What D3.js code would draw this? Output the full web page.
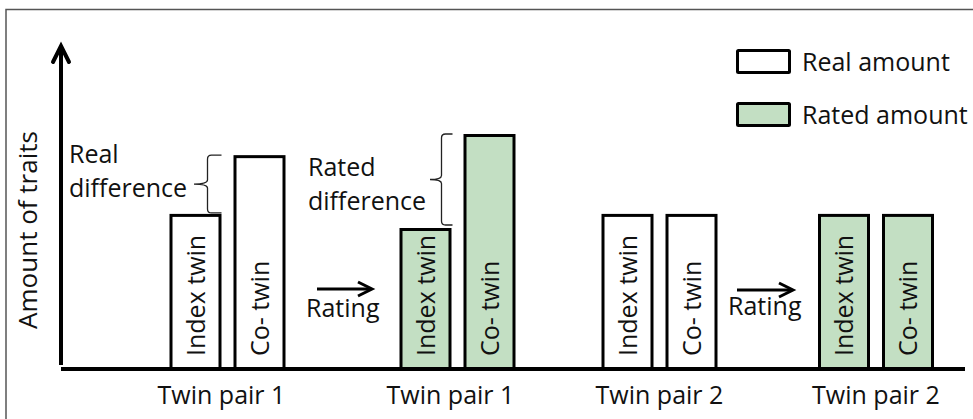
<!DOCTYPE html>
<html><head><meta charset="utf-8">
<script src="https://cdn.jsdelivr.net/npm/d3@7"></script>
<style>
html,body{margin:0;padding:0;background:#fff;}
svg{display:block;}
text{font-family:"Open Sans",sans-serif;fill:#111;}
</style></head>
<body><svg id="chart" width="973" height="419"></svg>
<script>
// ---- data ----
const panels = ["p1real", "p1rated", "p2real", "p2rated"];
const panelLabels = ["Twin pair 1", "Twin pair 1", "Twin pair 2", "Twin pair 2"];
const panelType = ["Real amount", "Rated amount", "Real amount", "Rated amount"];
const members = ["Index twin", "Co- twin"];
const indexTwin = [66, 60, 66, 66];
const coTwin = [91, 100, 66, 66];
const legendItems = ["Real amount", "Rated amount"];
const yLabel = "Amount of traits";
const diffNotes = [["Real", "difference"], ["Rated", "difference"]];
const arrowLabel = "Rating";

// ---- layout ----
const W = 973, H = 419;
const baseY = 369, axisX = 61, axisEnd = 965;
const panelCenters = [227.5, 457.5, 659.5, 876];
const colors = {"Real amount": "#ffffff", "Rated amount": "#c3dfc3"};
const fs = 25;

const svg = d3.select("#chart");

// border
svg.append("rect").attr("x", 6).attr("y", 9.5).attr("width", 1000).attr("height", 500)
  .attr("fill", "none").attr("stroke", "#555").attr("stroke-width", 1.5);

const y = d3.scaleLinear().domain([0, 100]).range([baseY, baseY - 235]);
const xPanel = d3.scaleOrdinal().domain(panels).range(panelCenters);
const xMember = d3.scaleBand().domain(members).range([-58, 58]).paddingInner(0.1875);

const rows = [];
panels.forEach((p, i) => {
  rows.push({panel: p, member: members[0], value: indexTwin[i], type: panelType[i]});
  rows.push({panel: p, member: members[1], value: coTwin[i], type: panelType[i]});
});

// bars
const g = svg.append("g");
g.selectAll("rect.bar").data(rows).join("rect")
  .attr("class", "bar")
  .attr("x", d => xPanel(d.panel) + xMember(d.member) + 1.5)
  .attr("width", xMember.bandwidth() - 3)
  .attr("y", d => y(d.value) + 1.5)
  .attr("height", d => baseY - y(d.value) - 1.5)
  .attr("fill", d => colors[d.type])
  .attr("stroke", "#000").attr("stroke-width", 3);

// bar labels
g.selectAll("text.barlabel").data(rows).join("text")
  .attr("class", "barlabel")
  .attr("transform", d => `translate(${xPanel(d.panel) + xMember(d.member) + xMember.bandwidth() / 2},${baseY - 13}) rotate(-90)`)
  .attr("dy", "0.36em")
  .attr("font-size", fs)
  .text(d => d.member);

// axes
svg.append("line").attr("x1", axisX).attr("x2", axisEnd).attr("y1", baseY).attr("y2", baseY)
  .attr("stroke", "#000").attr("stroke-width", 4);
svg.append("line").attr("x1", axisX).attr("x2", axisX).attr("y1", baseY - 4).attr("y2", y(100) - 88)
  .attr("stroke", "#000").attr("stroke-width", 4);
svg.append("path").attr("d", `M${axisX - 8},${62} L${axisX},${46} L${axisX + 8},${62}`)
  .attr("fill", "none").attr("stroke", "#000").attr("stroke-width", 4).attr("stroke-linecap", "round").attr("stroke-linejoin", "miter");

// y label
svg.append("text")
  .attr("transform", `translate(37,${230}) rotate(-90)`)
  .attr("text-anchor", "middle").attr("font-size", 26)
  .text(yLabel);

// panel labels
svg.selectAll("text.plabel").data(panels).join("text")
  .attr("class", "plabel")
  .attr("x", (p, i) => xPanel(p) - (i === 0 ? 6 : i === 1 ? 7 : 0))
  .attr("y", 404).attr("text-anchor", "middle").attr("font-size", fs)
  .text((p, i) => panelLabels[i]);

// legend
const lg = svg.append("g");
legendItems.forEach((item, i) => {
  lg.append("rect").attr("x", 737.5).attr("y", 50.5 + i * 53).attr("width", 52).attr("height", 22)
    .attr("fill", colors[item]).attr("stroke", "#000").attr("stroke-width", 3).attr("rx", 1);
  lg.append("text").attr("x", 802).attr("y", 71 + i * 52.5).attr("font-size", fs).text(item);
});

// braces
function brace(xEnd, xLine, xTip, yTop, yBot) {
  const yMid = (yTop + yBot) / 2, r = 4;
  return `M${xEnd},${yTop} L${xLine + r},${yTop} Q${xLine},${yTop} ${xLine},${yTop + r}` +
    ` L${xLine},${yMid - r} Q${xLine},${yMid} ${xTip},${yMid}` +
    ` Q${xLine},${yMid} ${xLine},${yMid + r} L${xLine},${yBot - r} Q${xLine},${yBot} ${xLine + r},${yBot} L${xEnd},${yBot}`;
}
const p1 = panels[0], p1r = panels[1];
svg.append("path").attr("d", brace(xPanel(p1) + xMember(members[1]) - 12, 207.5, 194, y(coTwin[0]), y(indexTwin[0]) - 1))
  .attr("fill", "none").attr("stroke", "#222").attr("stroke-width", 1.3);
svg.append("path").attr("d", brace(xPanel(p1r) + xMember(members[0]) + xMember.bandwidth() + 1, 441.5, 430, y(coTwin[1]), y(indexTwin[1]) - 3))
  .attr("fill", "none").attr("stroke", "#222").attr("stroke-width", 1.3);

// difference notes
const notePos = [[69, 163], [308, 176]];
diffNotes.forEach((lines, i) => {
  lines.forEach((t, j) => {
    svg.append("text").attr("x", notePos[i][0]).attr("y", notePos[i][1] + j * 34)
      .attr("font-size", fs).text(t);
  });
});

// rating arrows
const arrows = [{x1: 317, x2: 372, y: 289, tx: 306, ty: 317}, {x1: 737, x2: 793, y: 290, tx: 728, ty: 315}];
arrows.forEach(a => {
  svg.append("line").attr("x1", a.x1).attr("x2", a.x2 - 2).attr("y1", a.y).attr("y2", a.y)
    .attr("stroke", "#000").attr("stroke-width", 3);
  svg.append("path").attr("d", `M${a.x2 - 14},${a.y - 7} L${a.x2},${a.y} L${a.x2 - 14},${a.y + 7}`)
    .attr("fill", "none").attr("stroke", "#000").attr("stroke-width", 3);
  svg.append("text").attr("x", a.tx).attr("y", a.ty).attr("font-size", fs).text(arrowLabel);
});
</script></body></html>
